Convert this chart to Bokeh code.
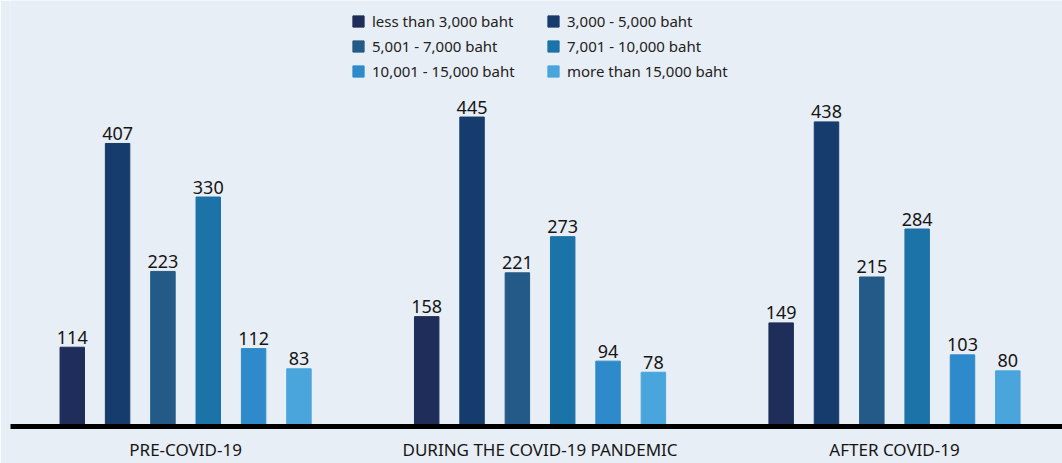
from bokeh.plotting import figure
from bokeh.models import ColumnDataSource, Range1d, FixedTicker, Legend, LegendItem
from bokeh.transform import dodge
from bokeh.core.properties import value
from bokeh.embed import file_html
from bokeh.resources import INLINE

periods = ["PRE-COVID-19", "DURING THE COVID-19 PANDEMIC", "AFTER COVID-19"]
brackets = ["less than 3,000 baht", "3,000 - 5,000 baht", "5,001 - 7,000 baht",
            "7,001 - 10,000 baht", "10,001 - 15,000 baht", "more than 15,000 baht"]
less_3000 = [114, 158, 149]
b3000_5000 = [407, 445, 438]
b5001_7000 = [223, 221, 215]
b7001_10000 = [330, 273, 284]
b10001_15000 = [112, 94, 103]
more_15000 = [83, 78, 80]
series = [less_3000, b3000_5000, b5001_7000, b7001_10000, b10001_15000, more_15000]
colors = ["#1e2d5a", "#163c6e", "#235a87", "#1b73a8", "#2e8aca", "#49a5db"]

BG = "#e8eef5"
FONT = "Noto Sans"

p = figure(width=1062, height=463, output_backend="svg", toolbar_location=None,
           x_range=Range1d(-0.494, 2.474), y_range=Range1d(0, 612.6),
           y_axis_location=None, min_border_left=10, min_border_right=0,
           min_border_top=0, min_border_bottom=36)
p.background_fill_color = BG
p.border_fill_color = BG
p.outline_line_color = None
p.xgrid.visible = False
p.ygrid.visible = False

idx = list(range(len(periods)))
step = 0.1279
width = 0.069
items = []
for i, (name, vals, col) in enumerate(zip(brackets, series, colors)):
    src = ColumnDataSource(dict(idx=idx, v=vals, lab=[str(x) for x in vals]))
    off = (i - 2.5) * step
    r = p.vbar(x=dodge("idx", off), top="v", width=width, bottom=0, source=src,
               fill_color=col, line_color=col)
    p.text(x=dodge("idx", off), y="v", text="lab", source=src,
           text_align="center", text_baseline="alphabetic", y_offset=-10,
           text_font=value(FONT), text_font_size="18px", text_color="#151515")
    items.append(LegendItem(label=name, renderers=[r]))

legend = Legend(items=items, orientation="horizontal", ncols=2,
                location=(341, 345), padding=0, margin=0, spacing=5,
                glyph_width=14, glyph_height=14, label_standoff=7,
                label_width=169, label_height=18,
                label_text_font=FONT, label_text_font_size="15px",
                label_text_color="#222222",
                border_line_color=None, background_fill_alpha=0)
p.add_layout(legend)

ax = p.xaxis[0]
ax.ticker = FixedTicker(ticks=idx)
ax.major_label_overrides = {i: periods[i] for i in idx}
ax.axis_line_width = 5
ax.axis_line_color = "black"
ax.major_tick_line_color = None
ax.minor_tick_line_color = None
ax.major_tick_in = 0
ax.major_tick_out = 0
ax.major_label_standoff = 11
ax.major_label_text_font = FONT
ax.major_label_text_font_size = "17px"
ax.major_label_text_color = "#151515"

open("out.html", "w").write(file_html(p, INLINE))
